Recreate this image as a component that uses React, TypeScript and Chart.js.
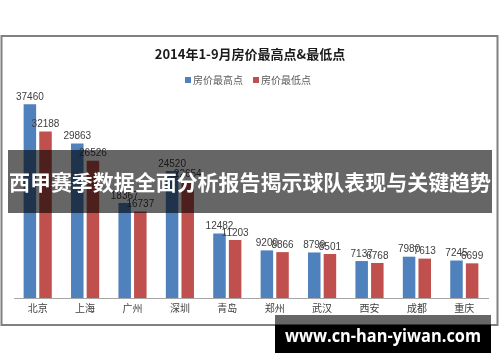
import React, { useEffect, useRef } from "react";
import { Chart, registerables } from "chart.js";

Chart.register(...registerables);

const categories = ["北京", "上海", "广州", "深圳", "青岛", "郑州", "武汉", "西安", "成都", "重庆"];
const highPrices = [37460, 29863, 18367, 24520, 12482, 9200, 8799, 7137, 7980, 7245];
const lowPrices = [32188, 26526, 16737, 22654, 11203, 8866, 8501, 6768, 7613, 6699];
const seriesNames = ["房价最高点", "房价最低点"];
const seriesColors = ["#4F81BD", "#C0504D"];
const chartTitle = "2014年1-9月房价最高点&最低点";
const bannerText = "西甲赛季数据全面分析报告揭示球队表现与关键趋势";
const watermarkText = "www.cn-han-yiwan.com";
const yMax = 40000;

const FONT = "'Liberation Sans', 'Noto Sans CJK SC', sans-serif";
const CJK = "'Noto Sans CJK SC', 'Liberation Sans', sans-serif";

const decorPlugin = {
  id: "decor",
  beforeDraw(chart: any) {
    const ctx = chart.ctx;
    ctx.save();
    ctx.fillStyle = "#ffffff";
    ctx.fillRect(0, 0, chart.width, chart.height);
    // frame
    ctx.strokeStyle = "#808080";
    ctx.lineWidth = 2;
    ctx.strokeRect(1.5, 36, 496, 289);
    // title
    ctx.fillStyle = "#1a1a1a";
    ctx.font = `bold 13px ${CJK}`;
    ctx.textAlign = "center";
    ctx.textBaseline = "middle";
    ctx.fillText(chartTitle, 250, 54);
    // legend
    ctx.font = `10px ${CJK}`;
    ctx.textAlign = "left";
    const legendX = [185, 253];
    seriesNames.forEach((name, i) => {
      ctx.fillStyle = seriesColors[i];
      ctx.fillRect(legendX[i], 77, 6, 6);
      ctx.fillStyle = "#595959";
      ctx.fillText(name, legendX[i] + 8, 80);
    });
    ctx.restore();
  },
  afterDatasetsDraw(chart: any) {
    const ctx = chart.ctx;
    ctx.save();
    ctx.font = `10px ${FONT}`;
    ctx.fillStyle = "#404040";
    ctx.textAlign = "center";
    ctx.textBaseline = "bottom";
    chart.data.datasets.forEach((ds: any, di: number) => {
      const meta = chart.getDatasetMeta(di);
      meta.data.forEach((bar: any, i: number) => {
        ctx.fillText(String(ds.data[i]), bar.x, bar.y - 2);
      });
    });
    ctx.restore();
  },
  afterDraw(chart: any) {
    const ctx = chart.ctx;
    ctx.save();
    // banner
    ctx.fillStyle = "rgba(0,0,0,0.6)";
    ctx.fillRect(8, 150, 484, 63);
    ctx.fillStyle = "#ffffff";
    ctx.font = `bold 21px ${CJK}`;
    ctx.textAlign = "center";
    ctx.textBaseline = "middle";
    ctx.fillText(bannerText, 250, 182, 482);
    // watermark
    ctx.fillStyle = "rgba(0,0,0,0.6)";
    ctx.fillRect(275, 315, 216, 10);
    ctx.fillStyle = "#000000";
    ctx.fillRect(275, 325, 216, 28);
    ctx.fillStyle = "#ffffff";
    ctx.font = `bold 17px 'Open Sans', 'DejaVu Sans', sans-serif`;
    ctx.fillText(watermarkText, 383, 337, 196);
    ctx.restore();
  },
};

export default function App() {
  const ref = useRef<HTMLCanvasElement | null>(null);
  useEffect(() => {
    if (!ref.current) return;
    const chart = new Chart(ref.current, {
      type: "bar",
      data: {
        labels: categories,
        datasets: [
          { label: seriesNames[0], data: highPrices, backgroundColor: seriesColors[0] },
          { label: seriesNames[1], data: lowPrices, backgroundColor: seriesColors[1] },
        ],
      },
      options: {
        animation: false,
        responsive: false,
        maintainAspectRatio: false,
        events: [],
        layout: { padding: { left: 14, right: 12, top: 91, bottom: 42 } },
        datasets: { bar: { barPercentage: 0.8, categoryPercentage: 0.66 } },
        plugins: { legend: { display: false }, title: { display: false }, tooltip: { enabled: false } },
        scales: {
          x: {
            grid: { display: false, drawTicks: false },
            border: { display: true, color: "#a6a6a6", width: 1 },
            ticks: { font: { size: 10, family: CJK }, color: "#404040", padding: 4, maxRotation: 0 },
            afterFit: (scale: any) => {
              scale.height = 22;
            },
          },
          y: { display: false, min: 0, max: yMax },
        },
      },
      plugins: [decorPlugin],
    });
    return () => chart.destroy();
  }, []);
  return (
    <div style={{ position: "absolute", left: 0, top: 0, width: 500, height: 362, background: "#fff" }}>
      <canvas ref={ref} width={500} height={362} />
    </div>
  );
}
